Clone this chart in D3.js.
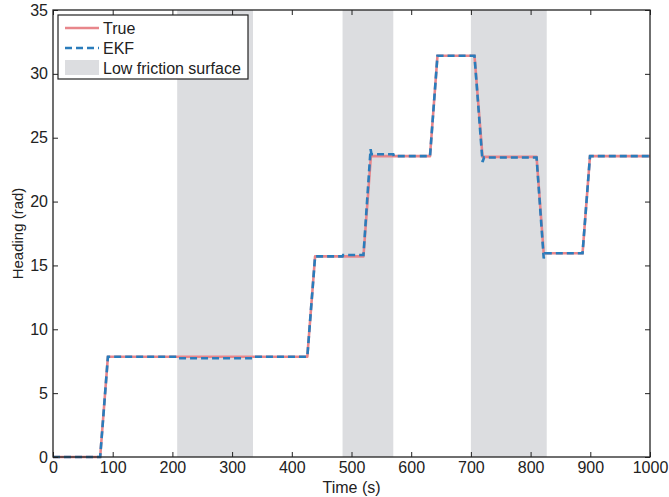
<!DOCTYPE html>
<html>
<head>
<meta charset="utf-8">
<script src="https://cdn.jsdelivr.net/npm/d3@7/dist/d3.min.js"></script>
<style>
  html, body { margin: 0; padding: 0; background: #fff; }
  svg { display: block; font-family: "Liberation Sans", Arial, Helvetica, sans-serif; }
</style>
</head>
<body>
<svg id="chart" width="669" height="497"></svg>
<script>
// Ground-truth heading (time in s, heading in rad)
const trueTime    = [0, 79, 92, 426, 439, 520, 532.5, 631.5, 644, 706, 719.5, 810, 822, 887, 899.5, 1000];
const trueHeading = [0, 0, 7.854, 7.854, 15.708, 15.708, 23.56, 23.56, 31.42, 31.42, 23.5, 23.5, 15.95, 15.95, 23.56, 23.56];

// EKF heading estimate
const ekfTime    = [0, 79, 92, 208, 209, 335, 336, 426, 439, 485, 486, 520, 532, 533.5, 570, 571, 631.5, 644, 706, 719.5, 722, 810, 822, 824, 887, 899.5, 1000];
const ekfHeading = [0, 0, 7.854, 7.854, 7.73, 7.73, 7.854, 7.854, 15.708, 15.708, 15.82, 15.82, 24.1, 23.7, 23.7, 23.56, 23.56, 31.42, 31.42, 23.1, 23.45, 23.45, 15.55, 15.95, 15.95, 23.56, 23.56];

// Low friction surface intervals (s)
const zoneStart = [208, 485, 700];
const zoneEnd   = [335, 570, 827];

const xTicks = [0, 100, 200, 300, 400, 500, 600, 700, 800, 900, 1000];
const yTicks = [0, 5, 10, 15, 20, 25, 30, 35];

const margin = { left: 53, right: 19, top: 10, bottom: 40 };
const W = 669, H = 497;
const svg = d3.select("#chart");

const x = d3.scaleLinear().domain([0, 1000]).range([margin.left, W - margin.right]);
const y = d3.scaleLinear().domain([0, 35]).range([H - margin.bottom, margin.top]);

const plot = svg.append("g");

// shaded low-friction zones
plot.selectAll("rect.zone")
  .data(zoneStart.map((s, i) => [s, zoneEnd[i]]))
  .join("rect")
  .attr("class", "zone")
  .attr("x", d => x(d[0]))
  .attr("width", d => x(d[1]) - x(d[0]))
  .attr("y", y(35))
  .attr("height", y(0) - y(35))
  .attr("fill", "#dcdde0");

const line = d3.line().x(d => x(d[0])).y(d => y(d[1]));

plot.append("path")
  .datum(trueTime.map((t, i) => [t, trueHeading[i]]))
  .attr("d", line)
  .attr("fill", "none")
  .attr("stroke", "#e8868b")
  .attr("stroke-width", 2.6)
  .attr("stroke-linejoin", "round");

plot.append("path")
  .datum(ekfTime.map((t, i) => [t, ekfHeading[i]]))
  .attr("d", line)
  .attr("fill", "none")
  .attr("stroke", "#2a7cbb")
  .attr("stroke-width", 2.6)
  .attr("stroke-dasharray", "7,4");

// axes with inward ticks, boxed frame
const tickLen = 5;
const fontSize = 16;
const fmt = d3.format("d");

const xAxis = svg.append("g").attr("transform", `translate(0,${y(0)})`)
  .call(d3.axisBottom(x).tickValues(xTicks).tickFormat(fmt).tickSizeInner(-tickLen).tickSizeOuter(0).tickPadding(6));
const xTop = svg.append("g").attr("transform", `translate(0,${y(35)})`)
  .call(d3.axisTop(x).tickValues(xTicks).tickSizeInner(-tickLen).tickSizeOuter(0).tickFormat(""));
const yAxis = svg.append("g").attr("transform", `translate(${x(0)},0)`)
  .call(d3.axisLeft(y).tickValues(yTicks).tickFormat(fmt).tickSizeInner(-tickLen).tickSizeOuter(0).tickPadding(5));
const yRight = svg.append("g").attr("transform", `translate(${x(1000)},0)`)
  .call(d3.axisRight(y).tickValues(yTicks).tickSizeInner(-tickLen).tickSizeOuter(0).tickFormat(""));

[xAxis, xTop, yAxis, yRight].forEach(g => {
  g.select(".domain").remove();
  g.selectAll(".tick line").attr("stroke", "#222").attr("stroke-width", 1);
  g.selectAll(".tick text")
    .attr("fill", "#222")
    .style("font-size", fontSize + "px")
    .style("font-family", "'Liberation Sans', Arial, sans-serif");
});
xAxis.selectAll(".tick text").attr("dy", "0.62em");

// frame
svg.append("rect")
  .attr("x", x(0)).attr("y", y(35))
  .attr("width", x(1000) - x(0)).attr("height", y(0) - y(35))
  .attr("fill", "none").attr("stroke", "#222").attr("stroke-width", 1.3);

// axis titles
svg.append("text")
  .attr("x", (x(0) + x(1000)) / 2).attr("y", 493)
  .attr("text-anchor", "middle")
  .style("font-size", "16px").attr("fill", "#222")
  .text("Time (s)");

svg.append("text")
  .attr("transform", `translate(23,${(y(0) + y(35)) / 2}) rotate(-90)`)
  .attr("text-anchor", "middle")
  .style("font-size", "15px").attr("fill", "#222")
  .text("Heading (rad)");

// legend
const lg = svg.append("g");
lg.append("rect")
  .attr("x", 58).attr("y", 15).attr("width", 190).attr("height", 64)
  .attr("fill", "#fff").attr("stroke", "#222").attr("stroke-width", 1.2);

lg.append("line").attr("x1", 65).attr("x2", 99).attr("y1", 28).attr("y2", 28)
  .attr("stroke", "#e8868b").attr("stroke-width", 2.6);
lg.append("line").attr("x1", 65).attr("x2", 99).attr("y1", 48).attr("y2", 48)
  .attr("stroke", "#2a7cbb").attr("stroke-width", 2.6).attr("stroke-dasharray", "7,4");
lg.append("rect").attr("x", 65).attr("y", 60).attr("width", 34).attr("height", 15)
  .attr("fill", "#dcdde0");

const labels = ["True", "EKF", "Low friction surface"];
const ly = [28, 48, 68];
labels.forEach((t, i) => {
  lg.append("text").attr("x", 103).attr("y", ly[i]).attr("dy", "0.35em")
    .style("font-size", "16px").attr("fill", "#222").text(t);
});
</script>
</body>
</html>
